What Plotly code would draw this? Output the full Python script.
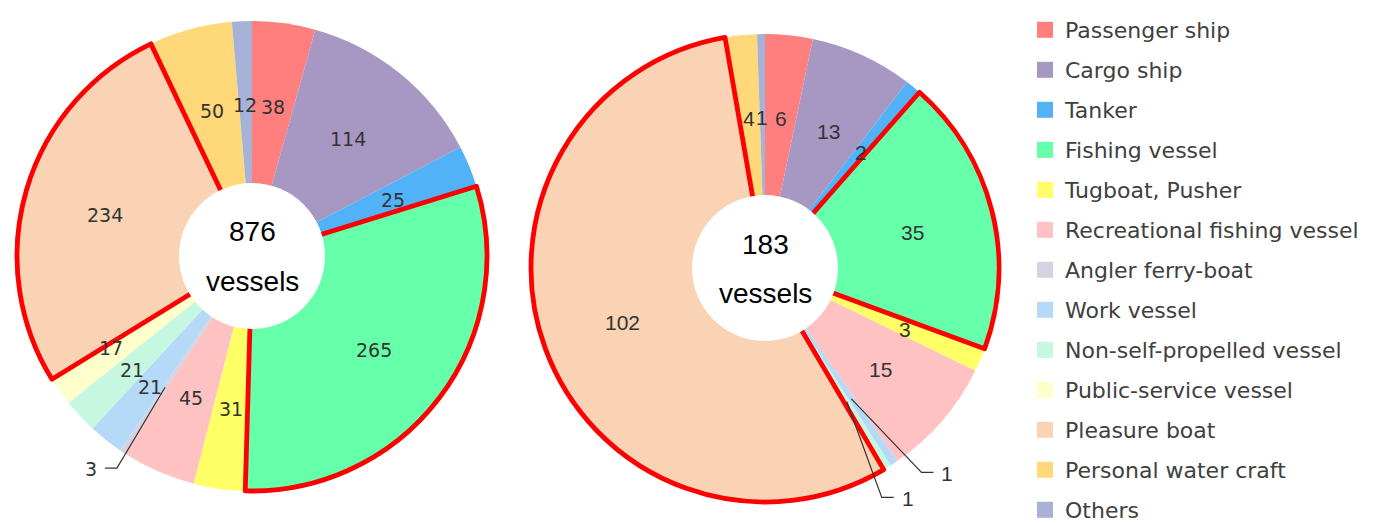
import math
import plotly.graph_objects as go

# ---------------- data ----------------
categories = [
    "Passenger ship", "Cargo ship", "Tanker", "Fishing vessel", "Tugboat, Pusher",
    "Recreational fishing vessel", "Angler ferry-boat", "Work vessel",
    "Non-self-propelled vessel", "Public-service vessel", "Pleasure boat",
    "Personal water craft", "Others",
]
values_left = [38, 114, 25, 265, 31, 45, 3, 21, 21, 17, 234, 50, 12]
values_right = [6, 13, 2, 35, 3, 15, 0, 1, 1, 0, 102, 4, 1]
highlighted = ["Fishing vessel", "Pleasure boat"]
unit_label = "vessels"

colors = [
    "#FF7F7F", "#A797C3", "#52B2F7", "#66FFAA", "#FFFF66", "#FFC2C2",
    "#D3D3E3", "#B5DAF7", "#C6F7E0", "#FFFFCC", "#F9D3B3", "#FFD87A", "#A7B3D6",
]

# ---------------- layout geometry (window pixels) ----------------
W, H = 1376, 523
OFF = 8  # page body margin
pies = [
    dict(values=values_left, cx=252, cy=256, r=235, hole_r=73,
         font=dict(family="DejaVu Sans", size=19, color="#333333"),
         outside={"Angler ferry-boat": (1.07, -1.0)},
         label_adjust={"Work vessel": (0.70, 0.0), "Non-self-propelled vessel": (0.70, 0.0),
                       "Public-service vessel": (0.71, 2.5)}),
    dict(values=values_right, cx=765, cy=268, r=234, hole_r=73,
         font=dict(family="Liberation Sans, Arial", size=21, color="#333333"),
         outside={"Work vessel": (1.10, -4.0), "Non-self-propelled vessel": (1.10, 4.5)},
         label_adjust={}),
]


def px(x):
    return (x - OFF) / W


def py(y):
    return 1 - (y - OFF) / H


def polar(p, ang, rr):
    a = math.radians(ang)
    return p["cx"] + rr * math.sin(a), p["cy"] - rr * math.cos(a)


fig = go.Figure()
shapes = []
annotations = []

for i, p in enumerate(pies):
    dom = dict(x=[px(p["cx"] - p["r"]), px(p["cx"] + p["r"])],
               y=[py(p["cy"] + p["r"]), py(p["cy"] - p["r"])])
    vals = p["values"]
    # main pie
    fig.add_trace(go.Pie(
        labels=categories, values=vals, sort=False, direction="clockwise", rotation=0,
        marker=dict(colors=colors, line=dict(width=0)),
        textinfo="none", showlegend=False, domain=dom, hoverinfo="label+value",
    ))
    # outline overlay for highlighted slices
    fig.add_trace(go.Pie(
        labels=categories, values=vals, sort=False, direction="clockwise", rotation=0,
        marker=dict(colors=["rgba(0,0,0,0)"] * len(vals),
                    line=dict(color=["#FF0000" if c in highlighted else "rgba(0,0,0,0)" for c in categories],
                              width=[4.8 if c in highlighted else 0 for c in categories])),
        textinfo="none", showlegend=False, domain=dom, hoverinfo="skip",
    ))

    # white centre disc
    shapes.append(dict(type="circle", xref="paper", yref="paper", layer="above",
                       x0=px(p["cx"] - p["hole_r"]), x1=px(p["cx"] + p["hole_r"]),
                       y0=py(p["cy"] + p["hole_r"]), y1=py(p["cy"] - p["hole_r"]),
                       fillcolor="white", line=dict(width=0)))
    total = sum(vals)
    annotations.append(dict(x=px(p["cx"]), y=py(p["cy"] - 24), xref="paper", yref="paper",
                            text=str(total), showarrow=False, xanchor="center", yanchor="middle",
                            font=dict(family="Liberation Sans, Arial", size=28, color="black")))
    annotations.append(dict(x=px(p["cx"]), y=py(p["cy"] + 25), xref="paper", yref="paper",
                            text=unit_label, showarrow=False, xanchor="center", yanchor="middle",
                            font=dict(family="Liberation Sans, Arial", size=28, color="black")))

    # value labels
    cum = 0
    for cat, v in zip(categories, vals):
        mid = (cum + v / 2) / total * 360
        cum += v
        if v == 0:
            continue
        if cat in p["outside"]:
            rf, da = p["outside"][cat]
            ax0, ay0 = polar(p, mid, 0.67 * p["r"])
            ex, ey = polar(p, mid + da, rf * p["r"])
            side = 1 if (mid % 360) < 180 else -1
            hx = ex + side * 12
            shapes.append(dict(type="path", xref="paper", yref="paper", layer="above",
                               path=f"M {px(ax0)},{py(ay0)} L {px(ex)},{py(ey)} L {px(hx)},{py(ey)}",
                               line=dict(color="#333333", width=1.2)))
            annotations.append(dict(x=px(hx + side * 6), y=py(ey + 1), xref="paper", yref="paper",
                                    text=str(v), showarrow=False,
                                    xanchor="left" if side > 0 else "right", yanchor="middle",
                                    font=p["font"]))
        else:
            rf, da = p["label_adjust"].get(cat, (0.65, 0.0))
            lx, ly = polar(p, mid + da, rf * p["r"])
            annotations.append(dict(x=px(lx), y=py(ly + 2), xref="paper", yref="paper",
                                    text=str(v), showarrow=False, xanchor="center", yanchor="middle",
                                    font=p["font"]))

# legend entries (one per category)
for cat, c in zip(categories, colors):
    fig.add_trace(go.Scatter(x=[None], y=[None], mode="markers", name=cat, legendgroup=cat,
                             marker=dict(symbol="square", size=16, color=c), hoverinfo="skip"))

fig.update_layout(
    width=W, height=H, margin=dict(l=0, r=0, t=0, b=0),
    paper_bgcolor="white", plot_bgcolor="white",
    xaxis=dict(visible=False), yaxis=dict(visible=False),
    shapes=shapes, annotations=annotations,
    legend=dict(x=px(1025), xanchor="left", y=py(10), yanchor="top",
                font=dict(family="DejaVu Sans", size=22, color="#404040"),
                tracegroupgap=8.4, bgcolor="rgba(0,0,0,0)", itemsizing="trace"),
)

fig.write_html("out.html")
